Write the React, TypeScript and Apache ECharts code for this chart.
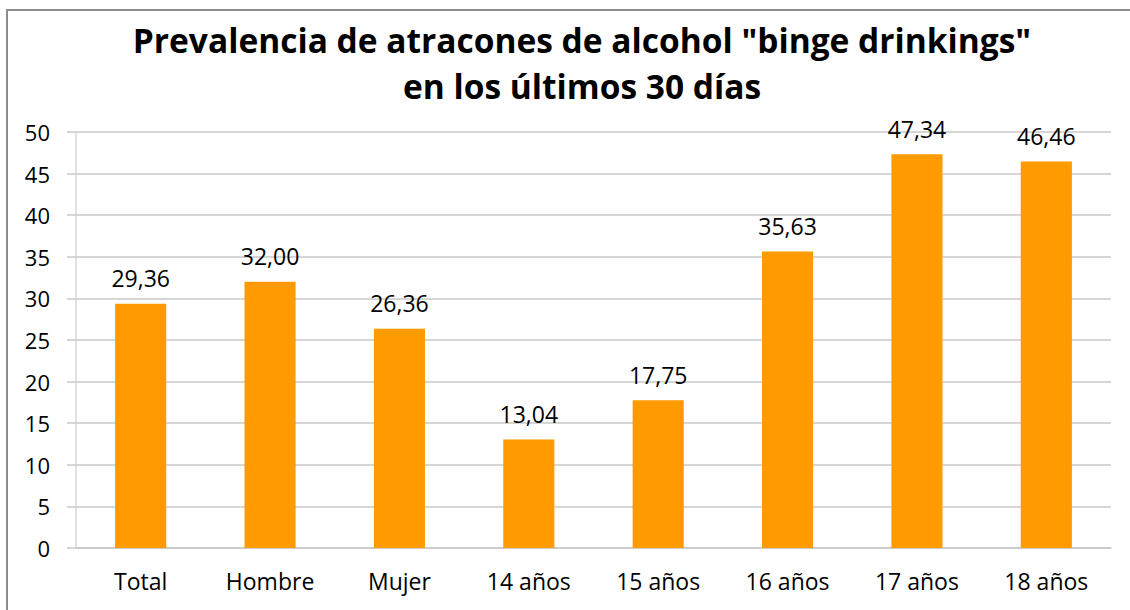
import React, { useEffect, useRef } from "react";
import * as echarts from "echarts";

const categories = ["Total", "Hombre", "Mujer", "14 años", "15 años", "16 años", "17 años", "18 años"];
const values = [29.36, 32.0, 26.36, 13.04, 17.75, 35.63, 47.34, 46.46];
const titleLines = ['Prevalencia de atracones de alcohol "binge drinkings"', "en los últimos 30 días"];

export default function App() {
  const ref = useRef<HTMLDivElement>(null);
  useEffect(() => {
    if (!ref.current) return;
    const chart = echarts.init(ref.current, null, { renderer: "svg" });
    const font = "Open Sans";
    chart.setOption({
      animation: false,
      backgroundColor: "#ffffff",
      graphic: [
        {
          type: "rect",
          shape: { x: 7, y: 10, width: 1140, height: 620 },
          style: { fill: "none", stroke: "#8c8c8c", lineWidth: 2 },
          silent: true,
        },
        {
          type: "text",
          x: 582,
          y: 17,
          silent: true,
          style: {
            text: titleLines.join("\n"),
            textAlign: "center",
            textVerticalAlign: "top",
            fontFamily: font,
            fontWeight: "bold",
            fontSize: 33.5,
            lineHeight: 46,
            fill: "#000000",
          },
        },
      ],
      grid: { left: 76, right: 19, top: 132, bottom: 62, containLabel: false },
      xAxis: {
        type: "category",
        data: categories,
        axisLine: { show: true, lineStyle: { color: "#c8c8c8", width: 1.5 } },
        axisTick: { show: false },
        axisLabel: { fontFamily: font, fontSize: 23, color: "#000000", margin: 21 },
      },
      yAxis: {
        type: "value",
        min: 0,
        max: 50,
        interval: 5,
        axisLine: { show: true, lineStyle: { color: "#d9d9d9", width: 1.5 } },
        axisTick: { show: true, length: 9, lineStyle: { color: "#c8c8c8", width: 1.5 } },
        axisLabel: { fontFamily: font, fontSize: 22, color: "#000000", margin: 26 },
        splitLine: { show: true, lineStyle: { color: "#c8c8c8", width: 1.5 } },
      },
      series: [
        {
          type: "bar",
          data: values,
          barWidth: "39.5%",
          itemStyle: { color: "#FF9A00" },
          label: {
            show: true,
            position: "top",
            distance: 14,
            fontFamily: font,
            fontSize: 23,
            color: "#000000",
            formatter: (p: any) => Number(p.value).toFixed(2).replace(".", ","),
          },
        },
      ],
    });
    return () => chart.dispose();
  }, []);
  return (
    <div
      ref={ref}
      style={{ position: "fixed", left: 0, top: 0, width: 1130, height: 610 }}
    />
  );
}
